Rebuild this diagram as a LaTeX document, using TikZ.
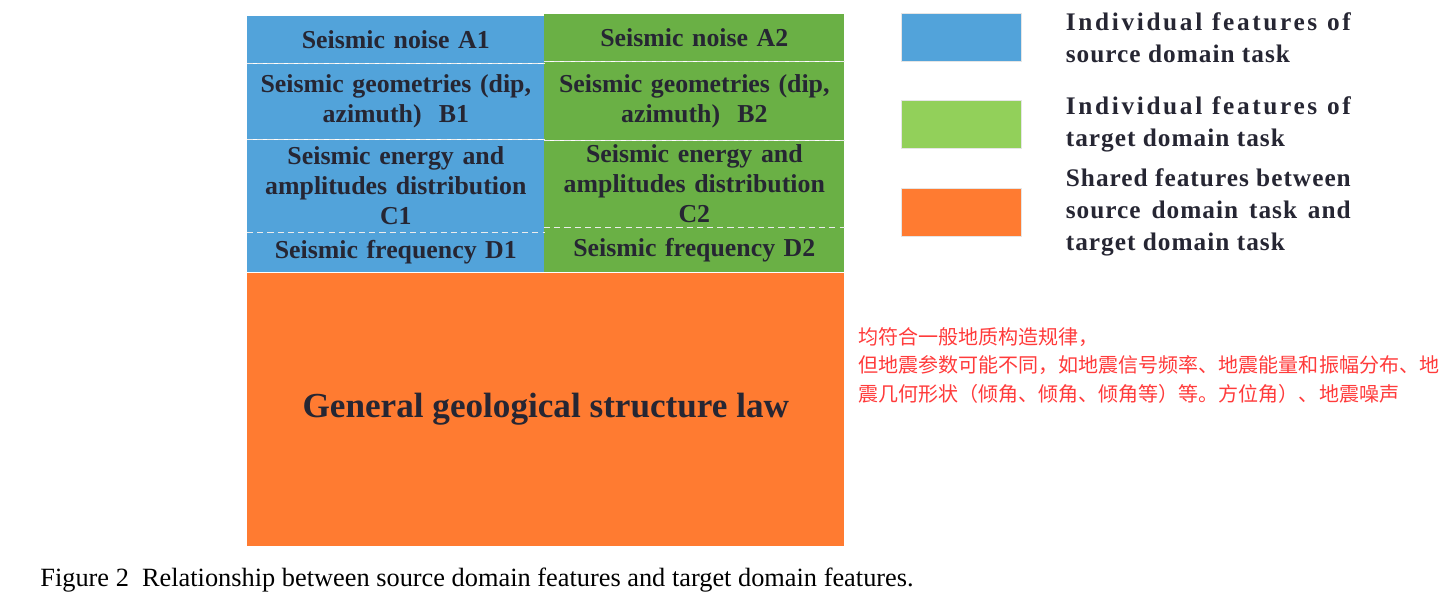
\documentclass[tikz,border=0pt]{standalone}
\usepackage{fontspec}
\setmainfont{Liberation Serif}
\newfontfamily\cjk{Noto Sans CJK SC}
\newfontfamily\spaced[LetterSpace=4]{Liberation Serif}
\newfontfamily\widespaced[LetterSpace=10.5]{Liberation Serif}
\newcommand{\fullline}[1]{\makebox[5.7cm][s]{#1}}
\usetikzlibrary{positioning}
\definecolor{srcblue}{HTML}{52A3DA}
\definecolor{tgtgreen}{HTML}{6AB045}
\definecolor{keygreen}{HTML}{92D05A}
\definecolor{sharedorange}{HTML}{FF7B31}
\definecolor{ink}{HTML}{262633}
\definecolor{note}{HTML}{FF3B3B}
\begin{document}
\begin{tikzpicture}[x=0.02cm,y=-0.02cm,
cell/.style={inner sep=0pt,align=center,text=ink,font=\fontsize{14.7}{17}\selectfont\bfseries},
src/.style={cell,fill=srcblue,minimum width=5.94cm,text width=5.9cm},
tgt/.style={cell,fill=tgtgreen,minimum width=6cm,text width=5.9cm},
sep/.style={white!85!gray,dash pattern=on 3.5pt off 2.3pt,line width=0.5pt},
key/.style={draw=gray!20,minimum width=2.4cm,minimum height=0.96cm,inner sep=0pt},
keytext/.style={right=0.76cm of #1,align=left,text=ink,font=\fontsize{14.4}{18.1}\selectfont\spaced\bfseries}]
\useasboundingbox (0,0) rectangle (1455,610);
% source domain column
\node[src,minimum height=0.94cm,anchor=north west] (a1) at (247,16) {Seismic noise A1};
\node[src,minimum height=1.5cm,below=0pt of a1] (b1) {Seismic geometries (dip,\\azimuth)~~B1};
\node[src,minimum height=1.84cm,below=0pt of b1] (c1) {Seismic energy and\\amplitudes distribution\\C1};
\node[src,minimum height=0.8cm,below=0pt of c1] (d1) {Seismic frequency D1};
% target domain column
\node[tgt,minimum height=0.94cm,anchor=north west] (a2) at (544,14) {Seismic noise A2};
\node[tgt,minimum height=1.56cm,below=0pt of a2] (b2) {Seismic geometries (dip,\\azimuth)~~B2};
\node[tgt,minimum height=1.72cm,below=0pt of b2] (c2) {Seismic energy and\\amplitudes distribution\\C2};
\node[tgt,minimum height=0.9cm,below=0pt of c2] (d2) {Seismic frequency D2};
\foreach \n in {a1,b1,c1,a2,b2,c2}
  \draw[sep] (\n.south west) -- (\n.south east);
% shared part
\node[fill=sharedorange,inner sep=0pt,minimum width=11.94cm,minimum height=5.46cm,anchor=north west,
  text=ink,font=\fontsize{20}{24}\selectfont\bfseries] (law) at (d1.south west) {General geological structure law};
% legend
\node[key,fill=srcblue,anchor=north west] (k1) at (901,13) {};
\node[key,fill=keygreen,anchor=north west] (k2) at (901,100) {};
\node[key,fill=sharedorange,anchor=north west] (k3) at (901,188) {};
\node[keytext=k1] (t1) {\fullline{\widespaced Individual features of}\\source domain task};
\node[keytext=k2] (t2) {\fullline{\widespaced Individual features of}\\target domain task};
\node[keytext=k3] (t3) {\fullline{Shared features between}\\\fullline{source domain task and}\\target domain task};
% note and caption
\node[anchor=north west,align=left,text=note,inner sep=0pt,font=\fontsize{11.4}{16.2}\selectfont\cjk] (remark) at (858,327)
  {均符合一般地质构造规律，\\但地震参数可能不同，如地震信号频率、地震能量和振幅分布、地\\震几何形状（倾角、倾角、倾角等）等。方位角）、地震噪声};
\node[anchor=west,inner sep=0pt,font=\fontsize{15}{18}\selectfont] (cap) at (40,580)
  {Figure 2~~Relationship between source domain features and target domain features.};
\end{tikzpicture}
\end{document}
